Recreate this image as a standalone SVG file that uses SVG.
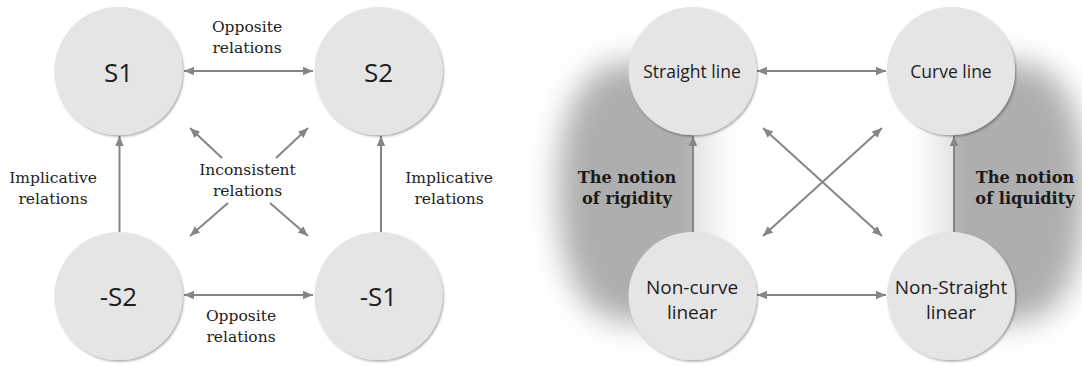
<svg xmlns="http://www.w3.org/2000/svg" width="1082" height="367" viewBox="0 0 1082 367">
  <defs>
    <style>
      .node { fill: #e5e5e5; filter: url(#nodeShadow); }
      .big { font-family: "Open Sans", "Liberation Sans", sans-serif; font-size: 26px; fill: #1e1e1e; text-anchor: middle; }
      .mid { font-family: "Open Sans", "Liberation Sans", sans-serif; font-size: 17.5px; fill: #1e1e1e; text-anchor: middle; }
      .mid2 { font-family: "Open Sans", "Liberation Sans", sans-serif; font-size: 19px; fill: #1e1e1e; text-anchor: middle; }
      .lbl { font-family: "DejaVu Serif", "Liberation Serif", serif; font-size: 15.5px; fill: #222; text-anchor: middle; }
      .notion { font-family: "DejaVu Serif", "Liberation Serif", serif; font-size: 16.2px; font-weight: bold; fill: #1a1a1a; text-anchor: middle; }
      .conn path { stroke: #858585; stroke-width: 2; fill: none; }
      .one { marker-end: url(#head); }
      .two { marker-start: url(#tail); marker-end: url(#head); }
    </style>
    <marker id="head" markerUnits="userSpaceOnUse" markerWidth="12" markerHeight="12" refX="10" refY="5" orient="auto" viewBox="0 0 12 10">
      <path d="M0,0.8 L10,5 L0,9.2 Z" fill="#858585"/>
    </marker>
    <marker id="tail" markerUnits="userSpaceOnUse" markerWidth="12" markerHeight="12" refX="0" refY="5" orient="auto" viewBox="0 0 12 10">
      <path d="M10,0.8 L0,5 L10,9.2 Z" fill="#858585"/>
    </marker>
    <filter id="nodeShadow" x="-20%" y="-20%" width="140%" height="140%">
      <feDropShadow dx="1.2" dy="1.5" stdDeviation="1.3" flood-color="#000" flood-opacity="0.35"/>
    </filter>
    <filter id="soft" x="-50%" y="-50%" width="200%" height="200%">
      <feGaussianBlur stdDeviation="15"/>
    </filter>
    <clipPath id="rigIn"><rect x="0" y="0" width="693" height="367"/></clipPath>
    <clipPath id="rigOut"><rect x="693" y="0" width="100" height="367"/></clipPath>
    <clipPath id="liqIn"><rect x="954" y="0" width="128" height="367"/></clipPath>
    <clipPath id="liqOut"><rect x="850" y="0" width="104" height="367"/></clipPath>
    <path id="rigShape" d="M712,62 L630,62 C578,62 558,120 558,190 C558,262 578,322 630,322 L712,322 Z" fill="#aeaeae"/>
    <path id="liqShape" d="M935,62 L1014,62 C1066,62 1086,120 1086,190 C1086,262 1066,322 1014,322 L935,322 Z" fill="#aeaeae"/>
  </defs>

  <rect width="1082" height="367" fill="#ffffff"/>

  <!-- shaded zones behind the right-hand square -->
  <g id="zone-rigidity">
    <use href="#rigShape" filter="url(#soft)" clip-path="url(#rigIn)"/>
    <use href="#rigShape" filter="url(#soft)" clip-path="url(#rigOut)" opacity="0.35"/>
  </g>
  <g id="zone-liquidity">
    <use href="#liqShape" filter="url(#soft)" clip-path="url(#liqIn)"/>
    <use href="#liqShape" filter="url(#soft)" clip-path="url(#liqOut)" opacity="0.35"/>
  </g>

  <!-- connectors -->
  <g id="connectors" class="conn">
    <path class="two" d="M184,71 L313,71"/>
    <path class="two" d="M184,295 L313,295"/>
    <path class="one" d="M119.5,232 L119.5,136"/>
    <path class="one" d="M381,232 L381,136"/>
    <path class="one" d="M222,158 L190,128"/>
    <path class="one" d="M276,158 L308,128"/>
    <path class="one" d="M228,203 L190,236"/>
    <path class="one" d="M270,203 L308,236"/>

    <path class="two" d="M757,71 L886,71"/>
    <path class="two" d="M757,295 L886,295"/>
    <path class="one" d="M693,232 L693,136"/>
    <path class="one" d="M954,232 L954,136"/>
    <path class="two" d="M763,128 L882,236"/>
    <path class="two" d="M882,128 L763,236"/>
  </g>

  <!-- left square -->
  <g id="s1"><circle class="node" cx="118.5" cy="71" r="64"/><text class="big" x="118.5" y="82">S1</text></g>
  <g id="s2"><circle class="node" cx="378.5" cy="71" r="64"/><text class="big" x="378.5" y="82">S2</text></g>
  <g id="not-s2"><circle class="node" cx="118.5" cy="296" r="64"/><text class="big" x="118.5" y="306">-S2</text></g>
  <g id="not-s1"><circle class="node" cx="378.5" cy="296" r="64"/><text class="big" x="378.5" y="306">-S1</text></g>

  <g id="labels-left">
    <text class="lbl" x="247" y="32">Opposite</text>
    <text class="lbl" x="247" y="53">relations</text>
    <text class="lbl" x="241" y="321">Opposite</text>
    <text class="lbl" x="241" y="342">relations</text>
    <text class="lbl" x="53" y="183">Implicative</text>
    <text class="lbl" x="53" y="204">relations</text>
    <text class="lbl" x="449" y="183">Implicative</text>
    <text class="lbl" x="449" y="204">relations</text>
    <text class="lbl" x="247.5" y="175">Inconsistent</text>
    <text class="lbl" x="247.5" y="196">relations</text>
  </g>

  <!-- right square -->
  <g id="straight-line"><circle class="node" cx="692.5" cy="71" r="64"/><text class="mid" x="692" y="78">Straight line</text></g>
  <g id="curve-line"><circle class="node" cx="951" cy="71" r="64"/><text class="mid" x="951" y="78">Curve line</text></g>
  <g id="non-curve"><circle class="node" cx="692.5" cy="296" r="64"/><text class="mid2" x="692" y="294">Non-curve</text><text class="mid2" x="692" y="319">linear</text></g>
  <g id="non-straight"><circle class="node" cx="951" cy="296" r="64"/><text class="mid2" x="951" y="294">Non-Straight</text><text class="mid2" x="951" y="319">linear</text></g>

  <g id="labels-right">
    <text class="notion" x="627" y="183">The notion</text>
    <text class="notion" x="627" y="204">of rigidity</text>
    <text class="notion" x="1025" y="183">The notion</text>
    <text class="notion" x="1025" y="204">of liquidity</text>
  </g>
</svg>
